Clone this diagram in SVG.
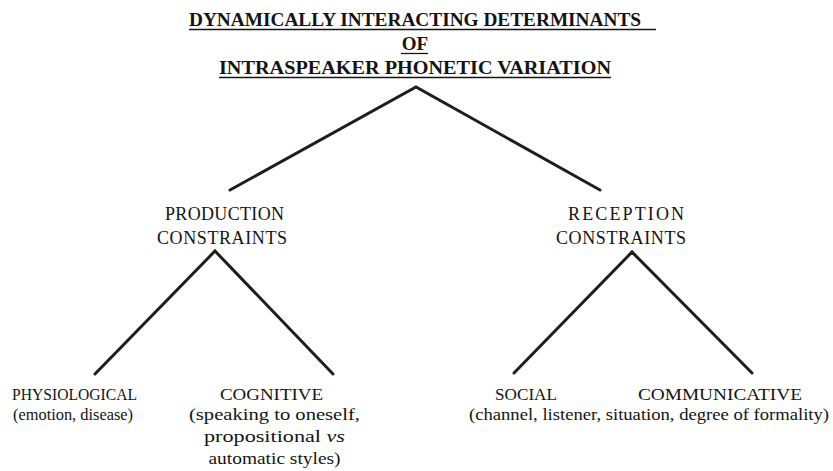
<svg xmlns="http://www.w3.org/2000/svg" width="833" height="471" viewBox="0 0 833 471">
  <style>
    .uline { stroke: #141414; stroke-width: 1.3; }
    .branch { fill: none; stroke: #1e1e1e; stroke-width: 3; stroke-linejoin: miter; stroke-linecap: round; }
  </style>

  <!-- heading -->
  <g id="title" fill="#141414" text-anchor="middle">
    <text font-family="Liberation Serif" font-size="19" font-weight="bold" x="415" y="26" textLength="452" lengthAdjust="spacingAndGlyphs">DYNAMICALLY INTERACTING DETERMINANTS</text>
    <line class="uline" x1="189" y1="29.5" x2="656" y2="29.5"/>
    <text font-family="Liberation Serif" font-size="19" font-weight="bold" x="415" y="50">OF</text>
    <line class="uline" x1="401" y1="53.5" x2="428" y2="53.5"/>
    <text font-family="Liberation Serif" font-size="19" font-weight="bold" x="415" y="74" textLength="392" lengthAdjust="spacingAndGlyphs">INTRASPEAKER PHONETIC VARIATION</text>
    <line class="uline" x1="219" y1="77.5" x2="611" y2="77.5"/>
  </g>

  <g id="production" fill="#141414" text-anchor="middle">
    <text font-family="Liberation Serif" font-size="18" x="224.5" y="220" textLength="119" lengthAdjust="spacing">PRODUCTION</text>
    <text font-family="Liberation Serif" font-size="18" x="222" y="244" textLength="130" lengthAdjust="spacing">CONSTRAINTS</text>
  </g>

  <g id="reception" fill="#141414" text-anchor="middle">
    <text font-family="Liberation Serif" font-size="18" x="626" y="220" textLength="116" lengthAdjust="spacing">RECEPTION</text>
    <text font-family="Liberation Serif" font-size="18" x="621" y="244" textLength="130" lengthAdjust="spacing">CONSTRAINTS</text>
  </g>

  <g id="physiological" fill="#141414" text-anchor="middle">
    <text font-family="Liberation Serif" font-size="16" x="74.5" y="400" textLength="125" lengthAdjust="spacingAndGlyphs">PHYSIOLOGICAL</text>
    <text font-family="Liberation Serif" font-size="16" x="73" y="420" textLength="120" lengthAdjust="spacingAndGlyphs">(emotion, disease)</text>
  </g>

  <g id="cognitive" fill="#141414" text-anchor="middle">
    <text font-family="Liberation Serif" font-size="16" x="271.5" y="400" textLength="103" lengthAdjust="spacingAndGlyphs">COGNITIVE</text>
    <text font-family="Liberation Serif" font-size="16" x="274.5" y="420" textLength="171" lengthAdjust="spacingAndGlyphs">(speaking to oneself,</text>
    <text font-family="Liberation Serif" font-size="16" x="274.5" y="442" textLength="141" lengthAdjust="spacingAndGlyphs">propositional <tspan font-style="italic">vs</tspan></text>
    <text font-family="Liberation Serif" font-size="16" x="274.5" y="464" textLength="132" lengthAdjust="spacingAndGlyphs">automatic styles)</text>
  </g>

  <g id="social" fill="#141414" text-anchor="middle">
    <text font-family="Liberation Serif" font-size="16" x="526" y="400" textLength="62" lengthAdjust="spacingAndGlyphs">SOCIAL</text>
  </g>

  <g id="communicative" fill="#141414" text-anchor="middle">
    <text font-family="Liberation Serif" font-size="16" x="720" y="400" textLength="164" lengthAdjust="spacingAndGlyphs">COMMUNICATIVE</text>
    <text font-family="Liberation Serif" font-size="16" x="649" y="420" textLength="360" lengthAdjust="spacingAndGlyphs">(channel, listener, situation, degree of formality)</text>
  </g>

  <!-- connectors -->
  <g id="connectors">
    <polyline class="branch" points="230,190 416,87 600,190"/>
    <polyline class="branch" points="95,374 215,251 333,374"/>
    <polyline class="branch" points="514,373 632,252 752,373"/>
  </g>
</svg>
